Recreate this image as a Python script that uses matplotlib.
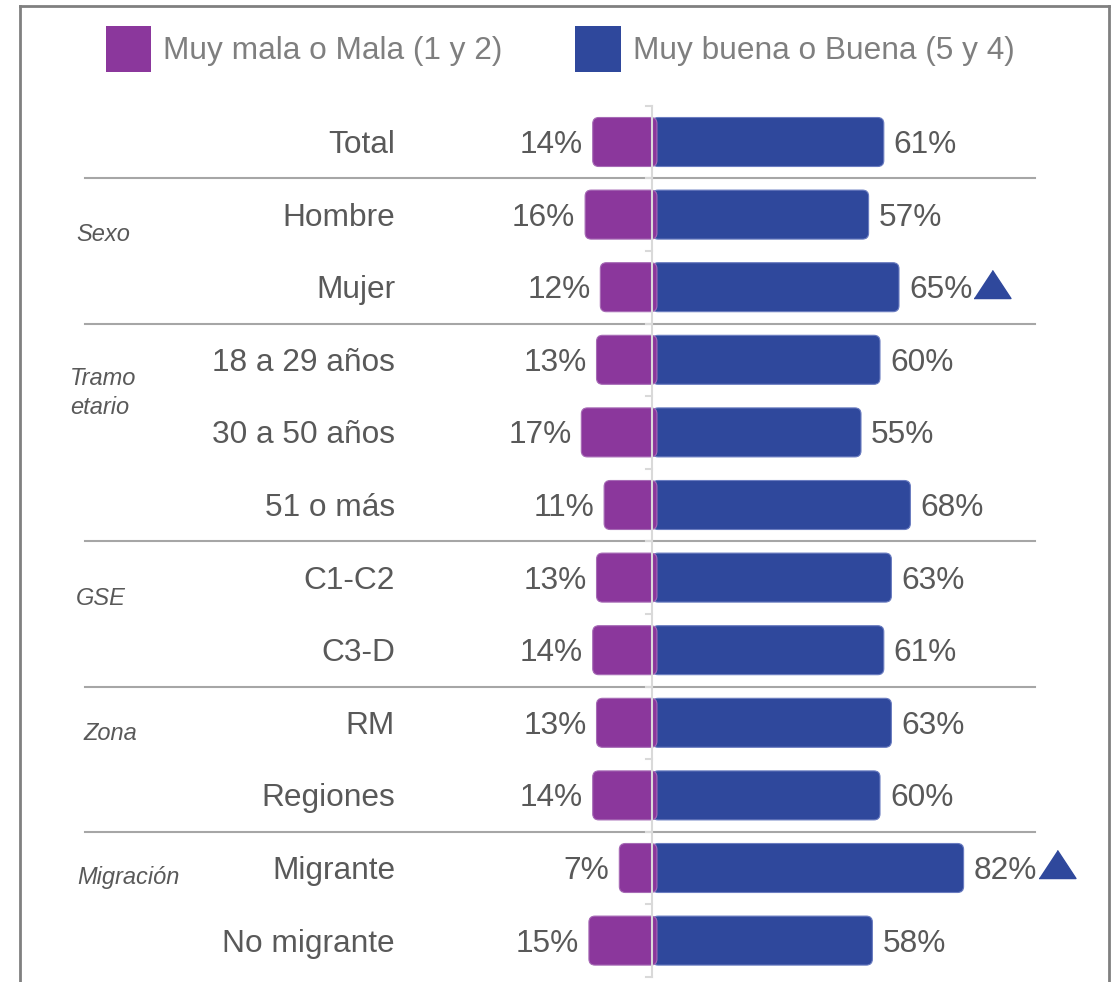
import numpy as np
import matplotlib.pyplot as plt
from matplotlib.patches import FancyBboxPatch, Patch
from matplotlib.lines import Line2D

plt.rcParams['font.family'] = ['Liberation Sans', 'DejaVu Sans']

categories = ['Total', 'Hombre', 'Mujer', '18 a 29 años', '30 a 50 años', '51 o más',
              'C1-C2', 'C3-D', 'RM', 'Regiones', 'Migrante', 'No migrante']
mala = [14, 16, 12, 13, 17, 11, 13, 14, 13, 14, 7, 15]
buena = [61, 57, 65, 60, 55, 68, 63, 61, 63, 60, 82, 58]
significant = ['Mujer', 'Migrante']
groups = ['Sexo', 'Tramo\netario', 'GSE', 'Zona', 'Migración']
group_last_row = [0, 2, 5, 7, 9]   # separator drawn after these rows
series_names = ['Muy mala o Mala (1 y 2)', 'Muy buena o Buena (5 y 4)']

purple = '#8B379C'
blue = '#2F489C'
txt = '#595959'

W, H = 1116, 982
px_x = 3.8      # pixels per percentage point
px_y = 72.6     # pixels per row
x0, y0 = 652, 142
dy = 0.04       # text nudge down

fig = plt.figure(figsize=(W / 100, H / 100), dpi=100)
ax = fig.add_axes([0, 0, 1, 1])
ax.set_xlim(-x0 / px_x, (W - x0) / px_x)
ax.set_ylim((H - y0) / px_y, -y0 / px_y)
ax.axis('off')

bh = 0.675
asp = px_x / px_y
for i, (m, b) in enumerate(zip(mala, buena)):
    ax.add_patch(FancyBboxPatch((0, i - bh / 2), b, bh,
                                boxstyle='round,pad=0,rounding_size=1.6', mutation_aspect=asp,
                                fc=blue, ec='#6a7cc0', lw=0.8, zorder=2))
    ax.add_patch(FancyBboxPatch((-(m + 1.6), i - bh / 2), m + 2.9, bh,
                                boxstyle='round,pad=0,rounding_size=1.6', mutation_aspect=asp,
                                fc=purple, ec='#a66ab5', lw=0.8, zorder=3))
    ax.text(-(m + 1.6) - 2.6, i + dy, f'{m}%', ha='right', va='center', fontsize=22.8, color=txt)
    ax.text(b + 2.6, i + dy, f'{b}%', ha='left', va='center', fontsize=22.8, color=txt)
    ax.text(-67.6, i + dy, categories[i], ha='right', va='center', fontsize=22.8, color=txt)
    if categories[i] in significant:
        ax.plot(b + 24.5, i - 0.05, marker=[(-1, -0.76), (1, -0.76), (0, 0.76)],
                markersize=26.6, color=blue, mec=blue)

# center axis with ticks
n = len(categories)
ax.plot([0, 0], [-0.5, n - 0.5], color='#d9d9d9', lw=1.5, zorder=4)
for yb in np.arange(-0.5, n, 1.0):
    ax.plot([-1.7, 0], [yb, yb], color='#d9d9d9', lw=1.5, zorder=4)

# group separators
for r in group_last_row:
    ax.plot([(85 - x0) / px_x, (1035 - x0) / px_x], [r + 0.5, r + 0.5],
            color='#a6a6a6', lw=1.5, zorder=1)

# group labels
gx = [76, 70, 76, 83, 77]
gy = [234, 393, 598, 733, 877]
for g, xx, yy in zip(groups, gx, gy):
    ax.text((xx - x0) / px_x, (yy - y0) / px_y, g, ha='left', va='center',
            fontsize=17, style='italic', color=txt, linespacing=1.32)

# legend
handles = [Patch(fc=purple, ec='none'), Patch(fc=blue, ec='none')]
fig.legend(handles, series_names, loc='center', bbox_to_anchor=(560 / W, 1 - 49 / H),
           ncol=2, frameon=False, fontsize=22.8, labelcolor='#7f7f7f',
           handlelength=1.45, handleheight=1.83, handletextpad=0.38,
           columnspacing=2.27, borderpad=0)

# outer frame
fc = '#808080'
fig.add_artist(Line2D([20 / W, 20 / W], [0, 1 - 6 / H], color=fc, lw=2))
fig.add_artist(Line2D([20 / W, 1109 / W], [1 - 6 / H, 1 - 6 / H], color=fc, lw=2))
fig.add_artist(Line2D([1109 / W, 1109 / W], [0, 1 - 6 / H], color=fc, lw=2))

fig.savefig('out.png', dpi=100)
